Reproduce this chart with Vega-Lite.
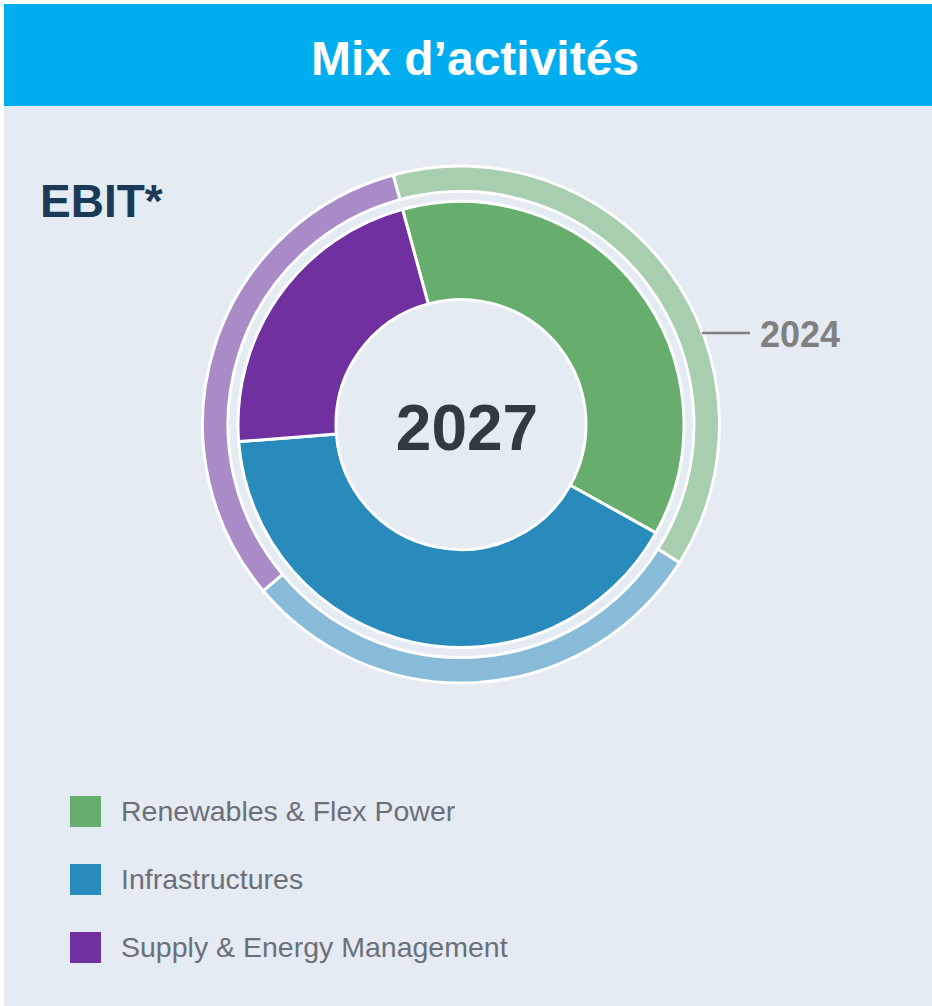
{
  "$schema": "https://vega.github.io/schema/vega-lite/v6.json",
  "background": "white",
  "padding": {"left": 4, "top": 4, "right": 0, "bottom": 0},
  "spacing": 0,
  "config": {"view": {"stroke": null}, "concat": {"spacing": 0}},
  "datasets": {
    "mix": [
      {"segment": "Renewables & Flex Power", "year": 2024, "share": 38.2, "rank": 1},
      {"segment": "Infrastructures", "year": 2024, "share": 29.9, "rank": 2},
      {"segment": "Supply & Energy Management", "year": 2024, "share": 31.9, "rank": 3},
      {"segment": "Renewables & Flex Power", "year": 2027, "share": 37.3, "rank": 1},
      {"segment": "Infrastructures", "year": 2027, "share": 40.7, "rank": 2},
      {"segment": "Supply & Energy Management", "year": 2027, "share": 22.0, "rank": 3}
    ]
  },
  "vconcat": [
    {
      "width": 928,
      "height": 102,
      "view": {"fill": "#00AEEF", "stroke": null},
      "data": {"values": [{}]},
      "mark": {
        "type": "text",
        "text": "Mix d’activités",
        "x": 471,
        "y": 71,
        "align": "center",
        "baseline": "alphabetic",
        "font": "Liberation Sans",
        "fontWeight": "bold",
        "fontSize": 48,
        "color": "#FFFFFF"
      },
      "encoding": {}
    },
    {
      "width": 928,
      "height": 900,
      "view": {"fill": "#E4EBF2", "stroke": null},
      "data": {"name": "mix"},
      "resolve": {"scale": {"color": "independent", "theta": "independent"}},
      "layer": [
        {
          "transform": [{"filter": "datum.year == 2024"}],
          "mark": {"type": "arc", "x": 457, "y": 318.5, "radius": 258.5, "radius2": 233, "stroke": "#FFFFFF", "strokeWidth": 3},
          "encoding": {
            "theta": {"field": "share", "type": "quantitative", "stack": true, "scale": {"range": [-0.2653, 6.0179]}},
            "order": {"field": "rank", "type": "quantitative"},
            "color": {
              "field": "segment",
              "type": "nominal",
              "scale": {"domain": ["Renewables & Flex Power", "Infrastructures", "Supply & Energy Management"], "range": ["#A8CEB0", "#87BBD8", "#A98BC8"]},
              "legend": null
            }
          }
        },
        {
          "transform": [{"filter": "datum.year == 2027"}],
          "mark": {"type": "arc", "x": 457, "y": 318.5, "radius": 223, "radius2": 125, "stroke": "#FFFFFF", "strokeWidth": 3},
          "encoding": {
            "theta": {"field": "share", "type": "quantitative", "stack": true, "scale": {"range": [-0.2653, 6.0179]}},
            "order": {"field": "rank", "type": "quantitative"},
            "color": {
              "field": "segment",
              "type": "nominal",
              "scale": {"domain": ["Renewables & Flex Power", "Infrastructures", "Supply & Energy Management"], "range": ["#66AD6E", "#288BBC", "#7030A0"]},
              "legend": {
                "orient": "none",
                "legendX": 66,
                "legendY": 690,
                "title": null,
                "padding": 0,
                "symbolType": "square",
                "symbolSize": 961,
                "symbolStrokeWidth": 0,
                "symbolStrokeColor": "transparent",
                "symbolOpacity": 1,
                "labelFont": "Liberation Sans",
                "labelFontSize": 28.5,
                "labelColor": "#6B7078",
                "labelOffset": 20,
                "labelLimit": 600,
                "rowPadding": 37
              }
            }
          }
        },
        {
          "data": {"values": [{}]},
          "mark": {"type": "text", "text": "2027", "x": 463, "y": 344, "align": "center", "baseline": "alphabetic", "font": "Liberation Sans", "fontWeight": "bold", "fontSize": 64, "color": "#333A3F"},
          "encoding": {}
        },
        {
          "data": {"values": [{}]},
          "mark": {"type": "text", "text": "EBIT*", "x": 36, "y": 111, "align": "left", "baseline": "alphabetic", "font": "Liberation Sans", "fontWeight": "bold", "fontSize": 46, "color": "#1B3A57"},
          "encoding": {}
        },
        {
          "data": {"values": [{}]},
          "mark": {"type": "rule", "color": "#7F7F7F", "strokeWidth": 2.5},
          "encoding": {
            "x": {"value": 698},
            "x2": {"value": 746},
            "y": {"value": 227}
          }
        },
        {
          "data": {"values": [{}]},
          "mark": {"type": "text", "text": "2024", "x": 756, "y": 241, "align": "left", "baseline": "alphabetic", "font": "Liberation Sans", "fontWeight": "bold", "fontSize": 36, "color": "#808080"},
          "encoding": {}
        }
      ]
    }
  ]
}
